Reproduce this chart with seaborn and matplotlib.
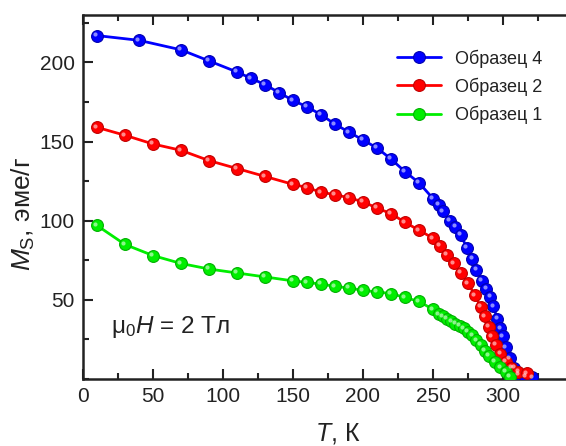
import numpy as np
import pandas as pd
import matplotlib
matplotlib.use("Agg")
import matplotlib.pyplot as plt
from matplotlib.transforms import offset_copy
from matplotlib.ticker import MultipleLocator, FixedLocator
import seaborn as sns

# ---- data ----
T4 = [10, 40, 70, 90, 110, 120, 130, 140, 150, 160, 170, 180, 190, 200, 210, 220, 230, 240,
      250, 254, 257, 262, 266, 270, 274, 278, 281, 285, 288, 291, 293, 296, 298, 300, 302,
      305, 308, 311, 316, 321]
M4 = [217, 214, 208, 201, 194, 190, 186, 181, 176, 172, 167, 161, 156, 151, 146, 139, 131, 124,
      114, 110, 106, 100, 96, 91, 83, 76, 69, 62, 57, 52, 46, 38, 32, 27, 20,
      13, 7, 3, 1.5, 1]

T2 = [10, 30, 50, 70, 90, 110, 130, 150, 160, 170, 180, 190, 200, 210, 220, 230, 240, 250,
      255, 260, 265, 270, 275, 280, 284, 287, 290, 292, 295, 298, 302, 306, 311, 317]
M2 = [159, 154, 148.5, 144.5, 138, 133, 128, 123, 121, 118, 116.5, 114.5, 112, 108, 104.5, 99,
      94, 89, 84, 78.5, 73, 67, 60.5, 53, 45.5, 39.5, 33, 27, 21.5, 16, 11, 7, 4.5, 3.5]

T1 = [10, 30, 50, 70, 90, 110, 130, 150, 160, 170, 180, 190, 200, 210, 220, 230, 240, 250,
      254, 257, 260, 263, 266, 269, 272, 275, 278, 281, 284, 287, 290, 294, 298, 302, 305]
M1 = [97, 85, 78, 73, 69.5, 67, 64.5, 62, 61, 60, 58.5, 57.5, 56, 55, 54, 51.5, 49, 44,
      41, 39.5, 38, 36.5, 35, 33.5, 32, 30, 27.5, 24.5, 21.5, 18, 14.5, 11, 7.5, 4.5, 1.5]

labels = ["Образец 4", "Образец 2", "Образец 1"]
colors = ["#0000FF", "#FF0000", "#00EE00"]
edges = ["#0000B0", "#C00000", "#00B000"]

series = [(T4, M4), (T2, M2), (T1, M1)]

# ---- style ----
sns.set_style("ticks")
plt.rcParams["font.family"] = ["Liberation Sans", "DejaVu Sans"]
plt.rcParams["mathtext.fontset"] = "custom"
plt.rcParams["mathtext.rm"] = "Liberation Sans"
plt.rcParams["mathtext.it"] = "Liberation Sans:italic"

fig = plt.figure(figsize=(5.66, 4.46), dpi=100)
ax = fig.add_axes([83 / 566, 67 / 446, 490 / 566, 364 / 446])

for (t, m), lab, c, ec in zip(series, labels, colors, edges):
    df = pd.DataFrame({"T": t, "M": m})
    sns.lineplot(data=df, x="T", y="M", ax=ax, color=c, linewidth=2.0, marker="o",
                 markersize=8.5, markeredgecolor=ec, markeredgewidth=0.8,
                 sort=False, label=lab, zorder=3)
    hl = offset_copy(ax.transData, fig=fig, x=-1.6, y=1.6, units="dots")
    ax.plot(t, m, "o", ms=3.0, color="white", alpha=0.55, mec="none",
            transform=hl, zorder=4)

ax.set_xlim(0, 350)
ax.set_ylim(0, 230)
ax.xaxis.set_major_locator(FixedLocator([0, 50, 100, 150, 200, 250, 300]))
ax.xaxis.set_minor_locator(MultipleLocator(25))
ax.yaxis.set_major_locator(FixedLocator([50, 100, 150, 200]))
ax.yaxis.set_minor_locator(MultipleLocator(25))

ax.tick_params(which="both", direction="in", top=True, right=False, width=1.5,
               colors="#222222", labelcolor="#222222")
ax.tick_params(which="major", length=7, labelsize=15, pad=6)
ax.tick_params(which="minor", length=4)
for s in ["left", "bottom", "top"]:
    ax.spines[s].set_linewidth(1.8)
    ax.spines[s].set_color("#222222")
ax.spines["right"].set_visible(False)

ax.set_xlabel(r"$\mathit{T}$, К", fontsize=18, color="#222222")
ax.xaxis.label.set_va("baseline")
ax.xaxis.set_label_coords((338 - 83) / 490, -(440 - 379) / 364)
ax.set_ylabel(r"$\mathit{M}_{\mathrm{S}}$, эме/г", fontsize=19, color="#222222")
ax.yaxis.set_label_coords(-(83 - 37) / 490, (379 - 214) / 364)

ax.text(20, 33, r"μ$_0$$\mathit{H}$ = 2 Тл", fontsize=17.5, color="#222222",
        ha="left", va="center")

leg = ax.legend(loc="upper left", bbox_to_anchor=((390 - 83) / 490, 1 - 27 / 364),
                frameon=False, fontsize=13, handlelength=2.4, handletextpad=0.8,
                labelspacing=0.55, borderaxespad=0)
for t in leg.get_texts():
    t.set_color("#222222")

fig.savefig("out.png", dpi=100)
